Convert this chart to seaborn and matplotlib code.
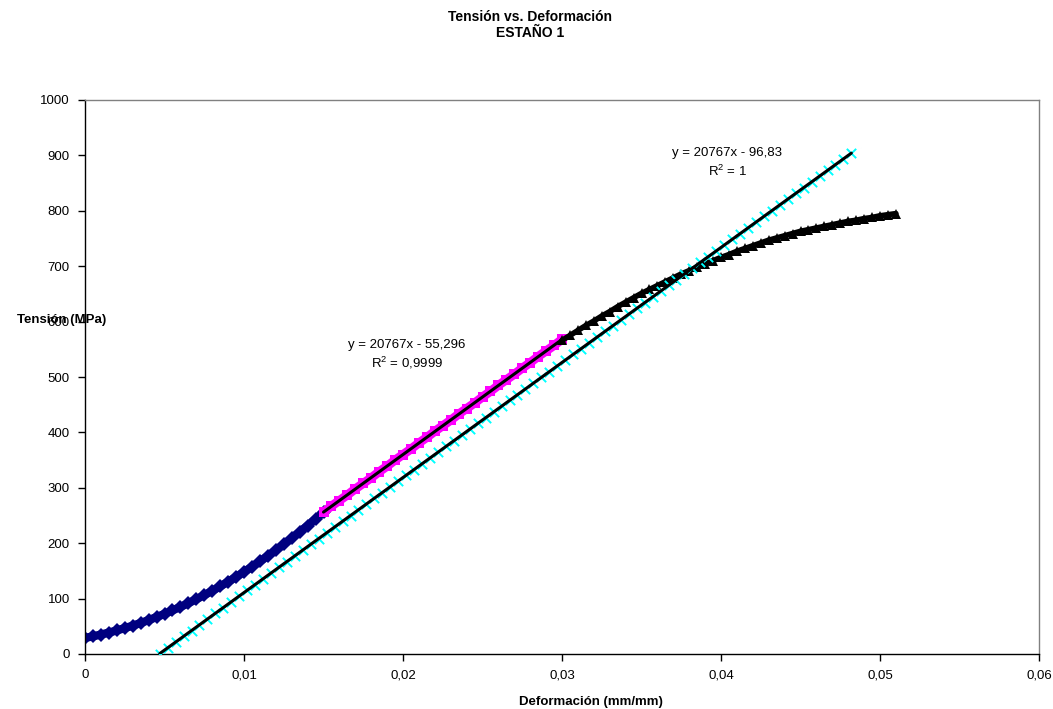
import numpy as np
import pandas as pd
import seaborn as sns
import matplotlib.pyplot as plt

sns.set_style("ticks")
plt.rcParams['font.family'] = ['Liberation Sans', 'DejaVu Sans']
plt.rcParams['mathtext.default'] = 'regular'
plt.rcParams['text.color'] = 'black'
plt.rcParams['axes.labelcolor'] = 'black'
plt.rcParams['xtick.color'] = 'black'
plt.rcParams['ytick.color'] = 'black'

# Tramo inicial (azul)
blue_x = [0.0, 0.0005, 0.001, 0.0015, 0.002, 0.0025, 0.003, 0.0035, 0.004, 0.0045,
          0.005, 0.0055, 0.006, 0.0065, 0.007, 0.0075, 0.008, 0.0085, 0.009, 0.0095,
          0.01, 0.0105, 0.011, 0.0115, 0.012, 0.0125, 0.013, 0.0135, 0.014, 0.0145, 0.015]
blue_y = [29, 31.9, 35.1, 38.7, 42.5, 46.7, 51.2, 56.0, 61.2, 66.7,
          72.4, 78.6, 85.0, 91.7, 98.9, 106.2, 113.9, 122.1, 130.4, 139.1,
          148.1, 157.4, 167.1, 177.1, 187.4, 198.0, 209.0, 220.2, 231.8, 243.8, 256.0]

# Tramo lineal (magenta)
mag_x = [0.015, 0.0155, 0.016, 0.0165, 0.017, 0.0175, 0.018, 0.0185, 0.019, 0.0195,
         0.02, 0.0205, 0.021, 0.0215, 0.022, 0.0225, 0.023, 0.0235, 0.024, 0.0245,
         0.025, 0.0255, 0.026, 0.0265, 0.027, 0.0275, 0.028, 0.0285, 0.029, 0.0295, 0.03]
mag_y = [256, 267, 277, 287, 298, 308, 318, 329, 339, 350,
         360, 370, 381, 391, 402, 412, 422, 433, 443, 453,
         464, 474, 485, 495, 505, 516, 526, 537, 547, 557, 568]

# Tramo plastico (negro)
blk_x = [0.03, 0.0305, 0.031, 0.0315, 0.032, 0.0325, 0.033, 0.0335, 0.034, 0.0345,
         0.035, 0.0355, 0.036, 0.0365, 0.037, 0.0375, 0.038, 0.0385, 0.039, 0.0395,
         0.04, 0.0405, 0.041, 0.0415, 0.042, 0.0425, 0.043, 0.0435, 0.044, 0.0445,
         0.045, 0.0455, 0.046, 0.0465, 0.047, 0.0475, 0.048, 0.0485, 0.049, 0.0495,
         0.05, 0.0505, 0.051]
blk_y = [566, 575, 584, 593, 601, 610, 618, 627, 635, 643,
         651, 658, 665, 672, 679, 686, 692, 698, 704, 710,
         716, 721, 727, 732, 737, 742, 747, 751, 755, 759,
         763, 766, 769, 772, 775, 778, 781, 783, 786, 788,
         791, 793, 795]

# Recta desplazada (cian)
cyan_x = [0.0047, 0.0052, 0.0057, 0.0062, 0.0067, 0.0072, 0.0077, 0.0082, 0.0087, 0.0092,
          0.0097, 0.0102, 0.0107, 0.0112, 0.0117, 0.0122, 0.0127, 0.0132, 0.0137, 0.0142,
          0.0147, 0.0152, 0.0157, 0.0162, 0.0167, 0.0172, 0.0177, 0.0182, 0.0187, 0.0192,
          0.0197, 0.0202, 0.0207, 0.0212, 0.0217, 0.0222, 0.0227, 0.0232, 0.0237, 0.0242,
          0.0247, 0.0252, 0.0257, 0.0262, 0.0267, 0.0272, 0.0277, 0.0282, 0.0287, 0.0292,
          0.0297, 0.0302, 0.0307, 0.0312, 0.0317, 0.0322, 0.0327, 0.0332, 0.0337, 0.0342,
          0.0347, 0.0352, 0.0357, 0.0362, 0.0367, 0.0372, 0.0377, 0.0382, 0.0387, 0.0392,
          0.0397, 0.0402, 0.0407, 0.0412, 0.0417, 0.0422, 0.0427, 0.0432, 0.0437, 0.0442,
          0.0447, 0.0452, 0.0457, 0.0462, 0.0467, 0.0472, 0.0477, 0.0482]
cyan_y = [0.8, 11.2, 21.5, 31.9, 42.3, 52.7, 63.1, 73.5, 83.8, 94.2,
          104.6, 115.0, 125.4, 135.8, 146.1, 156.5, 166.9, 177.3, 187.7, 198.1,
          208.4, 218.8, 229.2, 239.6, 250.0, 260.4, 270.7, 281.1, 291.5, 301.9,
          312.3, 322.7, 333.0, 343.4, 353.8, 364.2, 374.6, 385.0, 395.3, 405.7,
          416.1, 426.5, 436.9, 447.3, 457.6, 468.0, 478.4, 488.8, 499.2, 509.6,
          519.9, 530.3, 540.7, 551.1, 561.5, 571.9, 582.2, 592.6, 603.0, 613.4,
          623.8, 634.2, 644.5, 654.9, 665.3, 675.7, 686.1, 696.5, 706.8, 717.2,
          727.6, 738.0, 748.4, 758.8, 769.1, 779.5, 789.9, 800.3, 810.7, 821.1,
          831.4, 841.8, 852.2, 862.6, 873.0, 883.4, 893.7, 904.1]

x_ticks = [0, 0.01, 0.02, 0.03, 0.04, 0.05, 0.06]
x_labels = ['0', '0,01', '0,02', '0,03', '0,04', '0,05', '0,06']
y_ticks = [0, 100, 200, 300, 400, 500, 600, 700, 800, 900, 1000]

fig = plt.figure(figsize=(10.53, 7.09), dpi=100)
ax = fig.add_axes([85 / 1053, 55 / 709, 954 / 1053, 554 / 709])

sns.lineplot(x=blue_x, y=blue_y, color='#000080', marker='D', markersize=7,
             markeredgewidth=0, linewidth=6, estimator=None, ax=ax, zorder=2)
sns.lineplot(x=mag_x, y=mag_y, color='#FF00FF', marker='s', markersize=7,
             markeredgewidth=0, linewidth=6.5, estimator=None, ax=ax, zorder=2)
sns.lineplot(x=blk_x, y=blk_y, color='black', marker='^', markersize=7,
             markeredgewidth=0, linewidth=4, estimator=None, ax=ax, zorder=2)
sns.scatterplot(x=cyan_x, y=cyan_y, color='#00FFFF', marker='x', s=45,
                linewidth=1.4, ax=ax, zorder=3)

# lineas de tendencia
sns.regplot(x=mag_x, y=mag_y, scatter=False, ci=None, truncate=True,
            color='black', line_kws={'lw': 2.2, 'zorder': 4}, ax=ax)
sns.regplot(x=cyan_x, y=cyan_y, scatter=False, ci=None, truncate=True,
            color='black', line_kws={'lw': 2.2, 'zorder': 4}, ax=ax)

ax.text(0.02025, 540, 'y = 20767x - 55,296\nR$^2$ = 0,9999', ha='center', va='center',
        fontsize=9.5, linespacing=1.35)
ax.text(0.0404, 886, 'y = 20767x - 96,83\nR$^2$ = 1', ha='center', va='center',
        fontsize=9.5, linespacing=1.35)

ax.set_xlim(0, 0.06)
ax.set_ylim(0, 1000)
ax.set_xticks(x_ticks)
ax.set_xticklabels(x_labels)
ax.set_yticks(y_ticks)
ax.tick_params(labelsize=9.5, length=5, width=1, color='black', pad=6)

for side in ['left', 'bottom']:
    ax.spines[side].set_color('black')
    ax.spines[side].set_linewidth(1)
for side in ['top', 'right']:
    ax.spines[side].set_visible(True)
    ax.spines[side].set_color('#808080')
    ax.spines[side].set_linewidth(1)

ax.set_xlabel('Deformación (mm/mm)', fontsize=9.5, fontweight='bold')
ax.xaxis.set_label_coords(0.53, -0.075)
ax.set_ylabel('Tensión (MPa)', fontsize=9.5, fontweight='bold', rotation=0,
              ha='center', va='center')
ax.yaxis.set_label_coords(-0.024, 0.603)

fig.text(0.503, 1 - 25 / 709, 'Tensión vs. Deformación\nESTAÑO 1', ha='center',
         va='center', fontsize=10, fontweight='bold', linespacing=1.15)

fig.savefig('out.png', dpi=100, facecolor='white')
